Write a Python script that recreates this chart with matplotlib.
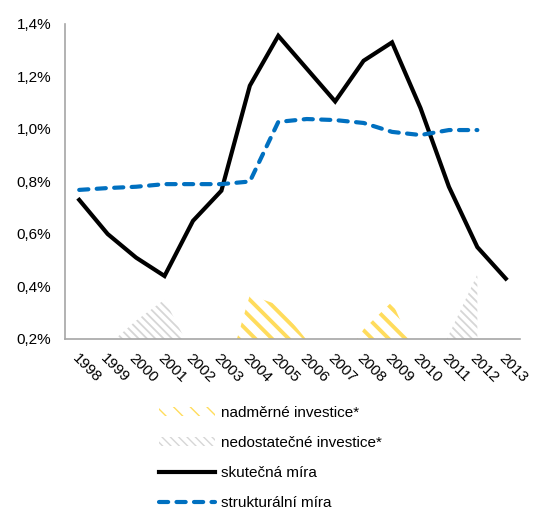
import numpy as np
import matplotlib
matplotlib.use('Agg')
import matplotlib.pyplot as plt
from matplotlib.patches import Patch
from matplotlib.lines import Line2D

plt.rcParams['font.family'] = ['Liberation Sans', 'DejaVu Sans']
plt.rcParams['font.size'] = 11

# data (v %)
roky = ['1998', '1999', '2000', '2001', '2002', '2003', '2004', '2005',
        '2006', '2007', '2008', '2009', '2010', '2011', '2012', '2013']
skutecna = [0.73, 0.60, 0.51, 0.44, 0.65, 0.765, 1.165, 1.355,
            1.23, 1.105, 1.26, 1.33, 1.08, 0.78, 0.55, 0.43]
strukturalni = [0.768, 0.775, 0.78, 0.79, 0.79, 0.79, 0.80, 1.027,
                1.038, 1.034, 1.023, 0.989, 0.977, 0.996, 0.996, np.nan]
# rozdily - plocha se kresli od nuly, osa zacina na 0,2 %
nadmerne = [0, 0, 0, 0, 0, 0, 0.367, 0.33, 0.196, 0.075, 0.237, 0.342,
            0.10, 0, 0, np.nan]
nedostatecne = [0.04, 0.175, 0.27, 0.35, 0.14, 0.025, 0, 0, 0, 0, 0, 0,
                0, 0.216, 0.446, np.nan]

yell = '#FFDC5C'
gray = '#D6D6D6'
blue = '#0070C0'
h_yell = '\\\\'
h_gray = '\\\\\\\\'
lw_yell = 2.8
lw_gray = 1.3

x = np.arange(len(roky))
fig = plt.figure(figsize=(5.35, 5.15), dpi=100)
ax = fig.add_axes([65/535, 1 - 339/515, 455/535, 315/515])

def plocha(vals, color, hatch, hlw):
    vals = np.array(vals, dtype=float)
    ok = ~np.isnan(vals)
    p = ax.fill_between(x[ok], 0, vals[ok], facecolor='none', edgecolor=color,
                        hatch=hatch, linewidth=0, zorder=1)
    try:
        p.set_hatch_linewidth(hlw)
    except Exception:
        pass
    return p

def leg_patch(color, hatch, hlw):
    p = Patch(facecolor='none', edgecolor=color, hatch=hatch, linewidth=0)
    try:
        p.set_hatch_linewidth(hlw)
    except Exception:
        pass
    return p

with plt.rc_context({'hatch.linewidth': lw_yell, 'hatch.color': yell}):
    plocha(nadmerne, yell, h_yell, lw_yell)
    h1 = leg_patch(yell, h_yell, lw_yell)
with plt.rc_context({'hatch.linewidth': lw_gray, 'hatch.color': gray}):
    plocha(nedostatecne, gray, h_gray, lw_gray)
    h2 = leg_patch(gray, h_gray, lw_gray)

ax.plot(x, skutecna, color='black', lw=3, solid_joinstyle='miter', zorder=3)
ax.plot(x, strukturalni, color=blue, lw=3, dashes=(2.2, 2.0),
        dash_capstyle='round', zorder=4)

ax.set_xlim(-0.5, len(roky) - 0.5)
ax.set_ylim(0.2, 1.4)
ax.set_yticks(np.arange(0.2, 1.41, 0.2))
ax.set_yticklabels(['{:.1f}%'.format(v).replace('.', ',') for v in np.arange(0.2, 1.41, 0.2)])
ax.set_xticks(x)
ax.set_xticklabels(roky, rotation=-45, ha='left', va='top', rotation_mode='anchor')
ax.tick_params(axis='both', length=0, pad=10)
ax.tick_params(axis='x', pad=9)
for s in ['top', 'right']:
    ax.spines[s].set_visible(False)
for s in ['left', 'bottom']:
    ax.spines[s].set_color('#A6A6A6')
    ax.spines[s].set_linewidth(1.2)

h3 = Line2D([], [], color='black', lw=3)
h4 = Line2D([], [], color=blue, lw=3, dashes=(2.2, 2.0), dash_capstyle='round')
fig.legend([h1, h2, h3, h4],
           ['nadměrné investice*', 'nedostatečné investice*', 'skutečná míra', 'strukturální míra'],
           loc='upper left', bbox_to_anchor=(145/535, 1 - 392/515), frameon=False,
           handlelength=3.7, handleheight=0.6, handletextpad=0.4, labelspacing=1.05)

fig.savefig('out.png', dpi=100)
